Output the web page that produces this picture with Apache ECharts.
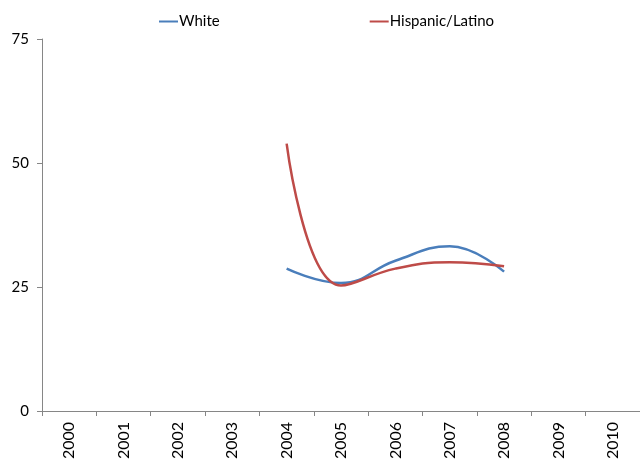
<!DOCTYPE html>
<html>
<head>
<meta charset="utf-8">
<script src="https://cdn.jsdelivr.net/npm/echarts@6/dist/echarts.min.js"></script>
<style>
  html, body { margin: 0; padding: 0; background: #fff; }
  #chart { width: 640px; height: 467px; }
</style>
</head>
<body>
<div id="chart"></div>
<script>
// Years on the category axis
const years = ['2000', '2001', '2002', '2003', '2004', '2005', '2006', '2007', '2008', '2009', '2010'];
// Series values (no data outside 2004–2008)
const white = [null, null, null, null, 28.7, 25.8, 30.3, 33.2, 28.1, null, null];
const hispanic = [null, null, null, null, 53.9, 25.3, 28.7, 30.0, 29.2, null, null];
// Value-axis ticks
const yTicks = [0, 25, 50, 75];

const font = 'Lato, "Open Sans", sans-serif';
const axisGrey = '#868686';

const chart = echarts.init(document.getElementById('chart'));
chart.setOption({
  animation: false,
  backgroundColor: '#fff',
  textStyle: { fontFamily: font },
  legend: {
    top: 9,
    left: 154,
    itemGap: 150,
    itemWidth: 19,
    itemHeight: 2,
    icon: 'rect',
    textStyle: { fontSize: 15, color: '#000', fontFamily: font, padding: [0, 0, 0, -4] },
    data: ['White', 'Hispanic/Latino']
  },
  grid: { left: 42, top: 39, width: 603, height: 372, containLabel: false },
  xAxis: {
    type: 'category',
    data: years,
    boundaryGap: true,
    axisLine: { lineStyle: { color: axisGrey, width: 1 } },
    axisTick: { show: true, interval: 0, length: 5, lineStyle: { color: axisGrey } },
    axisLabel: { interval: 0, rotate: 90, fontSize: 16, color: '#000', margin: 11, fontFamily: font },
    splitLine: { show: false }
  },
  yAxis: {
    type: 'value',
    min: yTicks[0],
    max: yTicks[yTicks.length - 1],
    interval: 25,
    axisLine: { show: true, lineStyle: { color: axisGrey, width: 1 } },
    axisTick: { show: true, length: 5, lineStyle: { color: axisGrey } },
    axisLabel: { fontSize: 15, color: '#000', margin: 13, fontFamily: font },
    splitLine: { show: false }
  },
  series: [
    {
      name: 'White',
      type: 'line',
      data: white,
      smooth: 0.45,
      symbol: 'none',
      connectNulls: false,
      lineStyle: { color: '#4A7EBB', width: 2.5 },
      itemStyle: { color: '#4A7EBB' }
    },
    {
      name: 'Hispanic/Latino',
      type: 'line',
      data: hispanic,
      smooth: 0.45,
      symbol: 'none',
      connectNulls: false,
      lineStyle: { color: '#BE4B48', width: 2.5 },
      itemStyle: { color: '#BE4B48' }
    }
  ]
});
</script>
</body>
</html>
